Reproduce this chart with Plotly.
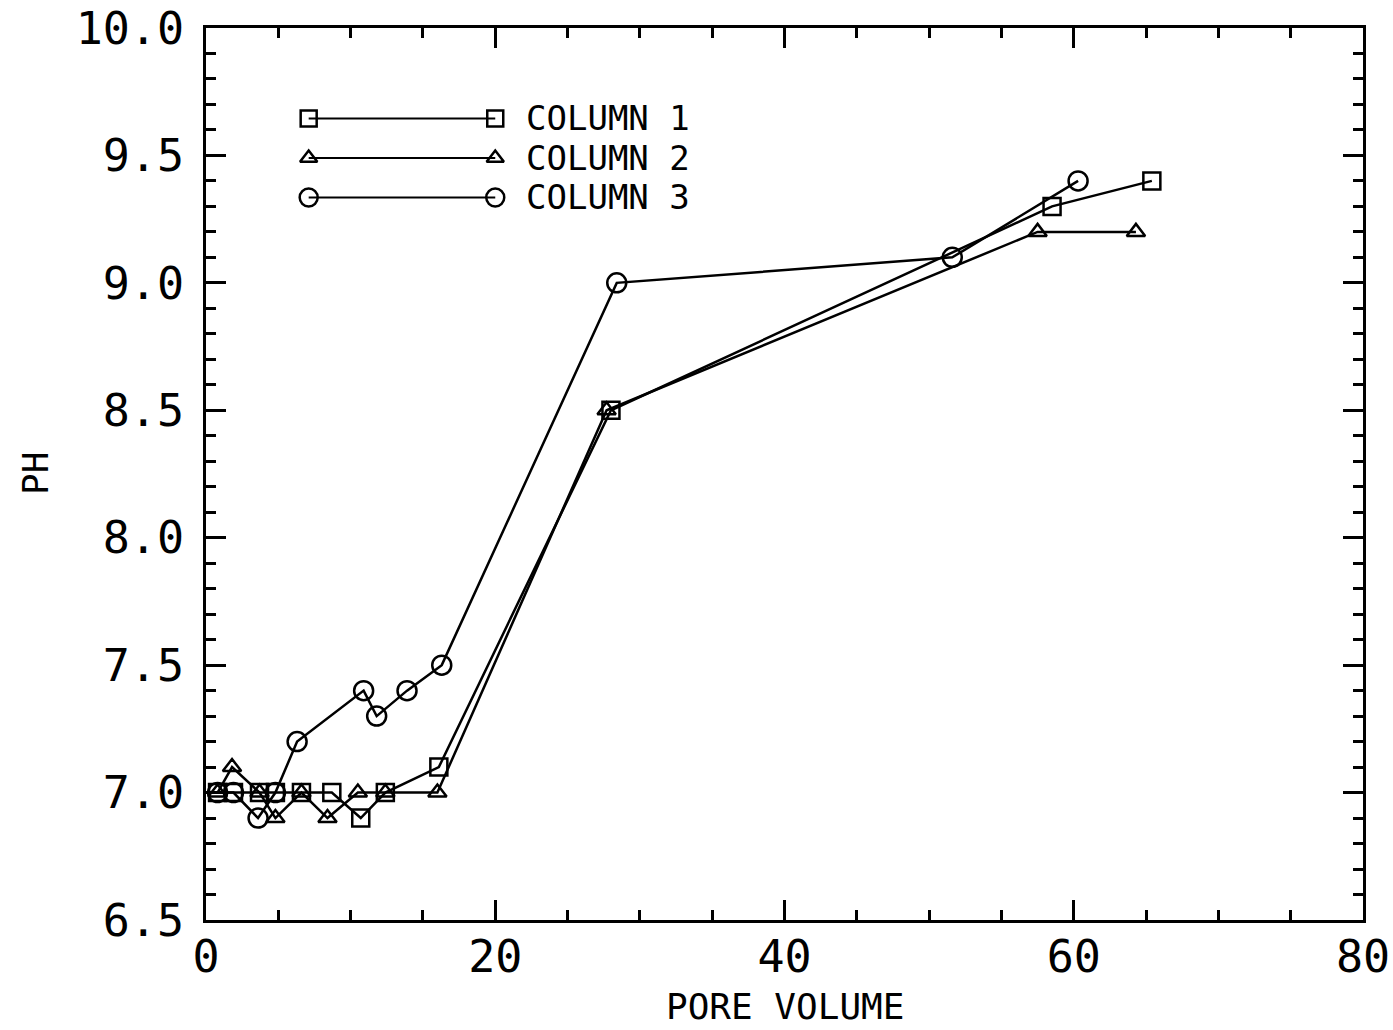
import plotly.graph_objects as go

# pH of column effluent versus pore volumes passed
col1_x = [0.8, 1.9, 3.7, 4.8, 6.6, 8.7, 10.7, 12.4, 16.1, 28.0, 58.5, 65.4]
col1_y = [7.0, 7.0, 7.0, 7.0, 7.0, 7.0, 6.9, 7.0, 7.1, 8.5, 9.3, 9.4]

col2_x = [0.8, 1.8, 3.7, 4.8, 6.6, 8.4, 10.5, 12.4, 16.0, 27.7, 57.5, 64.3]
col2_y = [7.0, 7.1, 7.0, 6.9, 7.0, 6.9, 7.0, 7.0, 7.0, 8.5, 9.2, 9.2]

col3_x = [0.8, 1.9, 3.6, 4.8, 6.3, 10.9, 11.8, 13.9, 16.3, 28.4, 51.6, 60.3]
col3_y = [7.0, 7.0, 6.9, 7.0, 7.2, 7.4, 7.3, 7.4, 7.5, 9.0, 9.1, 9.4]

series_names = ["COLUMN 1", "COLUMN 2", "COLUMN 3"]
x_ticks = [0, 20, 40, 60, 80]
y_ticks = [6.5, 7.0, 7.5, 8.0, 8.5, 9.0, 9.5, 10.0]

FONT = "DejaVu Sans Mono"
INK = "black"

symbols = ["square-open", "triangle-up-open", "circle-open"]
sizes = [17, 16, 19]

fig = go.Figure()

for xs, ys, sym, sz in zip([col1_x, col2_x, col3_x], [col1_y, col2_y, col3_y], symbols, sizes):
    fig.add_trace(go.Scatter(
        x=xs, y=ys, mode="lines+markers",
        line=dict(color=INK, width=2.5),
        marker=dict(symbol=sym, size=sz, color=INK, line=dict(color=INK, width=2.5)),
        showlegend=False,
    ))

# hand-drawn key: a line with a marker at each end, label to the right
key_x0, key_x1 = 7.1, 20.0
key_rows = [9.645, 9.49, 9.335]
for name, sym, sz, ky in zip(series_names, symbols, sizes, key_rows):
    fig.add_trace(go.Scatter(
        x=[key_x0, key_x1], y=[ky, ky], mode="lines+markers",
        line=dict(color=INK, width=2),
        marker=dict(symbol=sym, size=sz - 1, color=INK, line=dict(color=INK, width=2.5)),
        showlegend=False, hoverinfo="skip",
    ))
    fig.add_annotation(
        x=key_x1 + 2.0, y=ky, xref="x", yref="y", text=name, showarrow=False,
        xanchor="left", yanchor="middle",
        font=dict(family=FONT, size=34, color=INK),
    )

axis_common = dict(
    showline=True, linecolor=INK, linewidth=3, mirror="allticks",
    ticks="inside", tickwidth=3, ticklen=20, tickcolor=INK,
    showgrid=False, zeroline=False, automargin=False,
)

fig.update_xaxes(
    range=[0, 80], tickvals=x_ticks, ticktext=[str(v) for v in x_ticks],
    minor=dict(dtick=5, ticks="inside", ticklen=10, tickwidth=3, tickcolor=INK),
    tickfont=dict(family=FONT, size=45, color=INK),
    ticklabelstandoff=-5,
    **axis_common,
)
fig.update_yaxes(
    range=[6.5, 10.0], tickvals=y_ticks, ticktext=[f"{v:.1f}" for v in y_ticks],
    minor=dict(dtick=0.1, ticks="inside", ticklen=10, tickwidth=3, tickcolor=INK),
    tickfont=dict(family=FONT, size=45, color=INK),
    ticklabelstandoff=10,
    **axis_common,
)

# axis titles
fig.add_annotation(
    xref="paper", yref="paper", x=0.5, y=0, yshift=-86,
    text="PORE VOLUME", showarrow=False, xanchor="center", yanchor="middle",
    font=dict(family=FONT, size=36, color=INK),
)
fig.add_annotation(
    xref="paper", yref="paper", x=0, y=0.5, xshift=-171,
    text="PH", textangle=-90, showarrow=False, xanchor="center", yanchor="middle",
    font=dict(family=FONT, size=36, color=INK),
)

fig.update_layout(
    width=1393, height=1030,
    margin=dict(l=206, r=30, t=28, b=110),
    paper_bgcolor="white", plot_bgcolor="white",
    font=dict(family=FONT, color=INK),
)

fig.write_html("out.html")
